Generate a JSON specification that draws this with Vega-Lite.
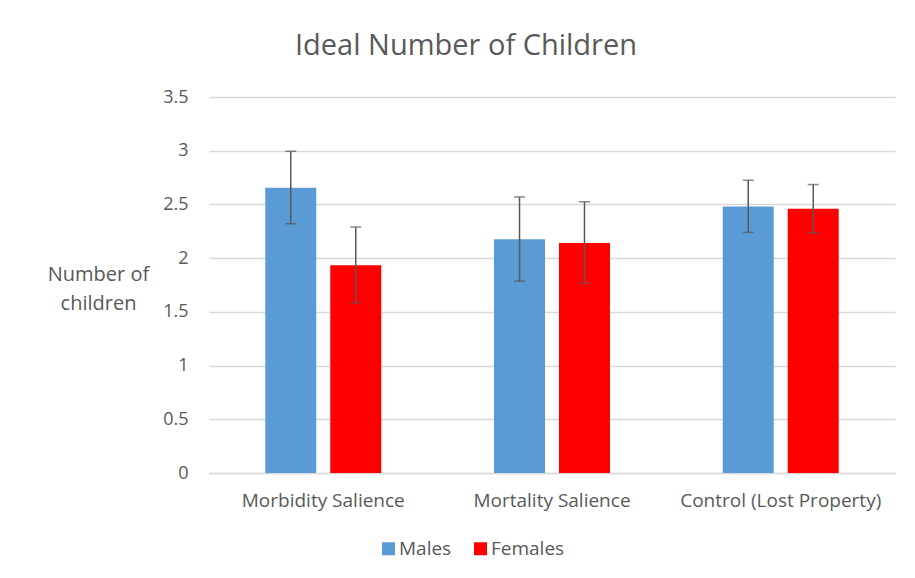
{
  "$schema": "https://vega.github.io/schema/vega-lite/v6.json",
  "width": 686,
  "height": 376,
  "autosize": {"type": "none"},
  "padding": {"left": 209, "top": 97, "right": 20, "bottom": 105},
  "background": "white",
  "title": {
    "text": "Ideal Number of Children",
    "fontSize": 29,
    "font": "Open Sans",
    "fontWeight": "normal",
    "color": "#595959",
    "anchor": "middle",
    "dx": -86,
    "offset": 27
  },
  "data": {
    "values": [
      {"condition": "Morbidity Salience", "sex": "Males", "mean": 2.655, "lo": 2.32, "hi": 2.995},
      {"condition": "Morbidity Salience", "sex": "Females", "mean": 1.935, "lo": 1.585, "hi": 2.29},
      {"condition": "Mortality Salience", "sex": "Males", "mean": 2.175, "lo": 1.785, "hi": 2.57},
      {"condition": "Mortality Salience", "sex": "Females", "mean": 2.14, "lo": 1.765, "hi": 2.525},
      {"condition": "Control (Lost Property)", "sex": "Males", "mean": 2.48, "lo": 2.24, "hi": 2.725},
      {"condition": "Control (Lost Property)", "sex": "Females", "mean": 2.46, "lo": 2.235, "hi": 2.685}
    ]
  },
  "encoding": {
    "x": {
      "field": "condition",
      "type": "nominal",
      "sort": ["Morbidity Salience", "Mortality Salience", "Control (Lost Property)"],
      "scale": {"paddingInner": 0.493, "paddingOuter": 0.246},
      "axis": {
        "title": null,
        "labelAngle": 0,
        "labelFont": "Open Sans",
        "labelFontSize": 19,
        "labelColor": "#595959",
        "labelPadding": 18,
        "labelLimit": 400,
        "ticks": false,
        "domainColor": "#d9d9d9",
        "domainWidth": 1.5
      }
    },
    "xOffset": {
      "field": "sex",
      "type": "nominal",
      "sort": ["Males", "Females"],
      "scale": {"paddingInner": 0.2154, "paddingOuter": 0}
    }
  },
  "layer": [
    {
      "mark": {"type": "bar"},
      "encoding": {
        "y": {
          "field": "mean",
          "type": "quantitative",
          "scale": {"domain": [0, 3.5], "nice": false},
          "axis": {
            "values": [0, 0.5, 1, 1.5, 2, 2.5, 3, 3.5],
            "format": "~g",
            "title": ["Number of", "children"],
            "titleAngle": 0,
            "titleX": -111,
            "titleY": 183,
            "titleAlign": "center",
            "titleBaseline": "alphabetic",
            "titleLineHeight": 29,
            "titleFont": "Open Sans",
            "titleFontSize": 20,
            "titleFontWeight": "normal",
            "titleColor": "#595959",
            "labelFont": "Open Sans",
            "labelFontSize": 18,
            "labelColor": "#595959",
            "labelPadding": 21,
            "ticks": false,
            "domain": false,
            "grid": true,
            "gridColor": "#d9d9d9",
            "gridWidth": 1.5
          }
        },
        "color": {
          "field": "sex",
          "type": "nominal",
          "scale": {"domain": ["Males", "Females"], "range": ["#5b9bd5", "#ff0000"]},
          "legend": {
            "title": null,
            "orient": "none",
            "direction": "horizontal",
            "legendX": 170,
            "legendY": 442,
            "symbolType": "square",
            "symbolSize": 169,
            "symbolStrokeWidth": 0,
            "labelFont": "Open Sans",
            "labelFontSize": 19,
            "labelColor": "#595959",
            "columnPadding": 19,
            "labelOffset": 1
          }
        }
      }
    },
    {
      "mark": {"type": "rule", "color": "#595959", "strokeWidth": 1.5},
      "encoding": {
        "y": {"field": "lo", "type": "quantitative"},
        "y2": {"field": "hi"}
      }
    },
    {
      "mark": {"type": "tick", "color": "#595959", "thickness": 1.5, "size": 11},
      "encoding": {"y": {"field": "lo", "type": "quantitative"}}
    },
    {
      "mark": {"type": "tick", "color": "#595959", "thickness": 1.5, "size": 11},
      "encoding": {"y": {"field": "hi", "type": "quantitative"}}
    }
  ],
  "config": {"view": {"stroke": null}}
}
